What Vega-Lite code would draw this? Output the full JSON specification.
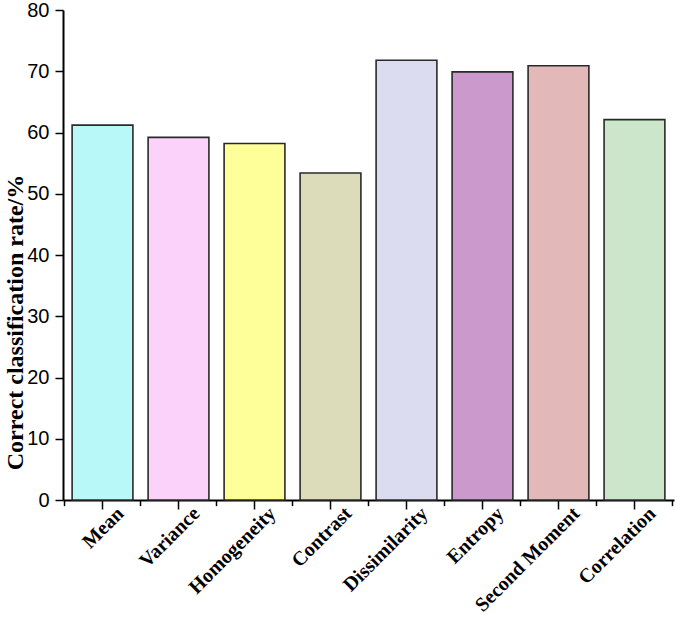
{
  "$schema": "https://vega.github.io/schema/vega-lite/v6.json",
  "width": 611,
  "height": 490,
  "autosize": {"type": "none"},
  "padding": {"left": 63, "top": 10, "right": 1, "bottom": 118},
  "background": "white",
  "config": {"view": {"stroke": null}},
  "data": {
    "values": [
      {"feature": "Mean", "rate": 61.2},
      {"feature": "Variance", "rate": 59.2},
      {"feature": "Homogeneity", "rate": 58.2},
      {"feature": "Contrast", "rate": 53.4},
      {"feature": "Dissimilarity", "rate": 71.8},
      {"feature": "Entropy", "rate": 69.9},
      {"feature": "Second Moment", "rate": 70.9},
      {"feature": "Correlation", "rate": 62.1}
    ]
  },
  "layer": [
    {
      "mark": {"type": "bar", "stroke": "#2a2a2a", "strokeWidth": 1.6},
      "encoding": {
        "x": {
          "field": "feature", "type": "nominal", "sort": null,
          "scale": {"paddingInner": 0.2, "paddingOuter": 0.12},
          "axis": {
            "title": null, "labelAngle": -45,
            "labelFont": "Liberation Serif", "labelFontWeight": "bold", "labelFontSize": 20,
            "labelColor": "black", "tickSize": 9, "tickColor": "black", "tickWidth": 1.5,
            "domainColor": "black", "domainWidth": 2, "labelPadding": -6, "labelOffset": 11
          }
        },
        "y": {
          "field": "rate", "type": "quantitative",
          "scale": {"domain": [0, 80], "nice": false},
          "axis": {
            "title": "Correct classification rate/%",
            "titleFont": "Liberation Serif", "titleFontWeight": "bold", "titleFontSize": 24,
            "titleColor": "black", "titleX": -41, "titleY": 312, "titleBaseline": "alphabetic",
            "values": [0, 5, 10, 15, 20, 25, 30, 35, 40, 45, 50, 55, 60, 65, 70, 75, 80],
            "grid": false, "labelOverlap": false,
            "labelExpr": "datum.value % 10 === 0 ? datum.label : ''",
            "labelFont": "Liberation Sans", "labelFontSize": 20, "labelColor": "black", "labelPadding": 6,
            "tickSize": {"condition": {"test": "datum.value % 10 === 0", "value": 8}, "value": 4},
            "tickColor": "black", "tickWidth": 1.5, "domainColor": "black", "domainWidth": 2
          }
        },
        "fill": {
          "field": "feature", "type": "nominal", "sort": null, "legend": null,
          "scale": {"range": ["#B8F8F8", "#FAD2FA", "#FFFF99", "#DCDCBA", "#DCDCF0", "#CC99CC", "#E3B8B8", "#CCE6CC"]}
        }
      }
    },
    {
      "mark": {"type": "rule", "color": "black", "strokeWidth": 1.5},
      "encoding": {
        "x": {"field": "feature", "type": "nominal", "sort": null, "bandPosition": -0.125},
        "y": {"datum": 0},
        "y2": {"datum": -1}
      }
    },
    {
      "transform": [{"filter": "datum.feature === 'Correlation'"}],
      "mark": {"type": "rule", "color": "black", "strokeWidth": 1.5},
      "encoding": {
        "x": {"field": "feature", "type": "nominal", "sort": null, "bandPosition": 1.125},
        "y": {"datum": 0},
        "y2": {"datum": -1}
      }
    }
  ]
}
